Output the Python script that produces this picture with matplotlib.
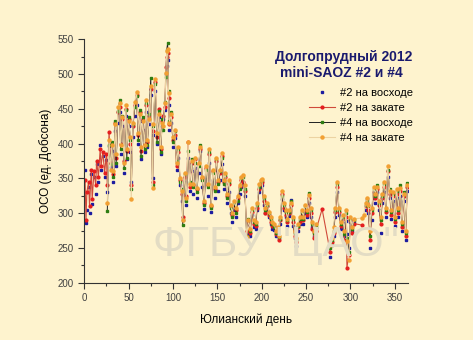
import numpy as np
import matplotlib.pyplot as plt
from matplotlib.ticker import MultipleLocator

plt.rcParams['font.family'] = ['Liberation Sans', 'DejaVu Sans']

nan = np.nan

# Юлианские дни наблюдений
days = [1, 2, 3, 5, 6, 8, 9, 11, 13, 14, 16, 18, 19, 21, 23, 25, 26, 28, 30,
        31, 33, 35, 36, 38, 40, 41, 43, 45, 47, 48, 50, 52, 53, 55, 57,
        59, 61, 63, 64, 66, 68, 70, 71, 73, 75, 77, 78, 80, 82, 84, 86, 88, 89,
        91, 92, 93, 94, 95, 96, 98, 100, 102, 104, 106, 108, 110, 111, 113, 115, 117, 119, 121,
        123, 125, 127, 129, 131, 133, 135, 137, 139, 141, 143, 145, 147, 149, 151,
        153, 155, 157, 159, 161, 163, 165, 167, 169, 171, 173, 175, 177, 179,
        181, 183, 185, 187, 189, 191, 193, 195, 197, 199, 200, 202, 204, 206, 208, 210, 212,
        214, 216, 218, 219, 221, 223, 225, 227, 229, 231, 233, 235, 237, 239, 241, 243,
        245, 247, 249, 251, 253, 255, 257, 259, 261, 268,
        277, 279, 281, 283, 285, 287, 289, 291, 293, 295, 296, 298, 300, 302, 304,
        313, 315, 317, 319, 320, 322, 324, 326, 328, 330, 332, 334,
        336, 338, 340, 342, 344, 346, 348, 350, 352, 354, 356, 358, 360, 362, 364]

# mini-SAOZ #2, восход
saoz2_am = [362, 286, 305, 338, 300, 356, 313, 352, 328, 370, 345, 398, 362, 382, 352, 376, 330, 396, 366,
            390, 345, 418, 368, 430, 445, 385, 425, 358, 440, 378, 425, 388, 345, 410, 440,
            455, 400, 432, 378, 420, 388, 445, 395, 428, 470, 350, 412, 475, 400, 438, 385, 425, 435,
            448, 500, 512, 520, 455, 420, 430, 395, 408, 362, 380, 340, 318, 290, 345, 312, 380, 332, 360,
            328, 365, 322, 358, 390, 338, 306, 352, 325, 372, 302, 348, 322, 362, 332,
            348, 370, 335, 342, 315, 330, 300, 288, 305, 295, 315, 328, 338, 342,
            325, 270, 285, 268, 298, 280, 278, 305, 330, 338, 340, 312, 300, 305, 295, 285, 278,
            276, 268, 272, 265, 285, 320, 305, 295, 282, 296, 319, 282, 265, 253, 275, 285,
            295, 285, 300, 295, 315, 295, 280, 268, 279, nan,
            237, 255, 268, 295, 330, 298, 278, 286, 268, 289, 270, 250, 288, 275, 287,
            nan, nan, 305, 321, 300, 250, 290, 322, 315, 330, 305, 272,
            315, 330, 295, 352, 322, 292, 318, 282, 322, 295, 325, 275, 318, 262, 332]

# mini-SAOZ #2, закат
saoz2_pm = [348, 290, 330, 345, 310, 362, 320, 360, 340, 375, 352, 392, 368, 388, 358, 385, 340, 416, 372,
            400, 356, 430, 380, 445, 452, 400, 435, 375, 450, 390, 436, 400, 340, 425, 455,
            470, 412, 445, 390, 435, 400, 455, 402, 440, 478, 345, 418, 488, 410, 450, 392, 432, 440,
            452, 510, 525, 530, 465, 428, 438, 405, 412, 368, 388, 348, 328, 295, 352, 325, 402, 338, 372,
            340, 378, 335, 370, 392, 350, 315, 365, 340, 385, 310, 360, 335, 375, 345,
            358, 382, 345, 352, 325, 342, 310, 298, 312, 305, 322, 338, 348, 345,
            332, 275, 288, 272, 302, 285, 282, 308, 335, 342, 345, 318, 300, 310, 298, 288, 282,
            282, 270, 278, 262, 290, 328, 308, 298, 288, 300, 312, 288, 268, 258, 280, 288,
            300, 290, 305, 298, 322, 300, 278, 265, 275, 306,
            245, 258, 272, 302, 338, 302, 282, 292, 262, 295, 222, 240, 290, 272, 285,
            283, nan, 310, 315, 305, 262, 300, 330, 322, 335, 312, 285,
            322, 338, 302, 360, 328, 298, 325, 288, 328, 300, 332, 280, 325, 268, 338]

# mini-SAOZ #4, восход
saoz4_am = [nan, nan, nan, nan, nan, nan, nan, nan, nan, nan, nan, nan, nan, nan, nan, nan, 303, 398, 370,
            402, 352, 432, 372, 447, 462, 392, 440, 365, 448, 380, 438, 405, 335, 428, 452,
            468, 405, 448, 382, 438, 392, 458, 398, 442, 494, 340, 425, 485, 402, 447, 388, 436, 420,
            460, 495, 535, 544, 475, 432, 445, 402, 418, 375, 392, 345, 335, 283, 356, 318, 390, 345, 378,
            338, 372, 330, 368, 398, 348, 312, 362, 338, 388, 308, 358, 332, 378, 342,
            360, 380, 342, 355, 322, 345, 308, 295, 315, 300, 318, 335, 350, 352,
            335, 268, 292, 275, 305, 288, 285, 312, 338, 346, 348, 322, 305, 312, 300, 292, 285,
            280, 272, 275, 266, 292, 325, 312, 302, 290, 302, 318, 292, 272, 262, 282, 292,
            302, 292, 310, 302, 329, 305, 285, 272, 282, nan,
            250, 262, 275, 305, 342, 305, 285, 295, 270, 300, 265, 245, 292, 278, 290,
            nan, nan, 312, 318, 310, 268, 305, 335, 325, 340, 315, 290,
            325, 342, 305, 362, 335, 302, 328, 292, 332, 305, 340, 285, 330, 272, 343]

# mini-SAOZ #4, закат
saoz4_pm = [nan, nan, nan, nan, nan, nan, nan, nan, nan, nan, nan, nan, nan, nan, nan, nan, 315, 405, 362,
            398, 360, 428, 385, 452, 458, 398, 438, 372, 455, 392, 432, 410, 320, 430, 460,
            474, 415, 442, 395, 432, 398, 462, 405, 436, 482, 336, 428, 493, 415, 443, 395, 430, 425,
            458, 502, 533, 536, 472, 430, 442, 410, 420, 372, 395, 350, 332, 290, 358, 322, 402, 342, 375,
            342, 380, 336, 372, 395, 352, 318, 368, 342, 392, 312, 362, 338, 380, 348,
            362, 386, 348, 358, 328, 348, 312, 300, 318, 308, 325, 340, 352, 355,
            340, 266, 290, 278, 308, 290, 288, 315, 342, 348, 349, 325, 308, 315, 302, 295, 288,
            285, 275, 280, 268, 295, 332, 315, 305, 292, 305, 315, 295, 275, 265, 285, 295,
            305, 295, 312, 305, 326, 308, 288, 275, 285, nan,
            255, 265, 280, 308, 345, 308, 288, 298, 275, 305, 260, 233, 295, 280, 292,
            293, 298, 315, 322, 312, 275, 308, 338, 328, 338, 318, 295,
            328, 345, 308, 368, 332, 305, 330, 295, 335, 308, 336, 288, 328, 275, 340]

bg = '#fef3ce'
fig = plt.figure(figsize=(4.73, 3.40), dpi=100, facecolor=bg)
ax = fig.add_axes([0.178, 0.168, 0.685, 0.717], facecolor=bg)

# водяной знак
fig.text(0.583, 0.28, 'ФГБУ "ЦАО"', fontsize=31, color='#e3dcc4',
         ha='center', va='center', zorder=0)

ax.plot(days, saoz2_am, linestyle='none', marker='s', ms=2.1,
        color='#1c1ca0', label='#2 на восходе')
ax.plot(days, saoz2_pm, '-', color='#d04a3a', lw=0.8, marker='o', ms=2.0,
        mfc='#e41e1e', mec='#e41e1e', label='#2 на закате')
ax.plot(days, saoz4_am, '-', color='#202020', lw=0.7, marker='s', ms=2.1,
        mfc='#2e7d12', mec='#2e7d12', label='#4 на восходе')
ax.plot(days, saoz4_pm, '-', color='#ecd3a2', lw=0.8, marker='o', ms=2.2,
        mfc='#f2a033', mec='#f2a033', label='#4 на закате')

ax.set_xlim(0, 365)
ax.set_ylim(200, 550)
ax.xaxis.set_major_locator(MultipleLocator(50))
ax.xaxis.set_minor_locator(MultipleLocator(25))
ax.yaxis.set_major_locator(MultipleLocator(50))
ax.yaxis.set_minor_locator(MultipleLocator(25))
ax.tick_params(which='major', direction='out', length=4, width=0.8,
               color='#333333', labelsize=7, labelcolor='#404040')
ax.tick_params(which='minor', direction='out', length=2.5, width=0.8, color='#333333')
for s in ['top', 'right']:
    ax.spines[s].set_visible(False)
for s in ['left', 'bottom']:
    ax.spines[s].set_color('#333333')
    ax.spines[s].set_linewidth(0.8)

ax.set_xlabel('Юлианский день', fontsize=8.5, labelpad=7)
ax.set_ylabel('ОСО (ед. Добсона)', fontsize=8.5, labelpad=4)

fig.text(0.726, 0.832, 'Долгопрудный 2012', fontsize=10, fontweight='bold',
         color='#1a1a6e', ha='center', va='center')
fig.text(0.722, 0.785, 'mini-SAOZ #2 и #4', fontsize=10, fontweight='bold',
         color='#1a1a6e', ha='center', va='center')

ax.legend(loc='upper left', bbox_to_anchor=(0.695, 0.80), frameon=False,
          fontsize=8, handlelength=2.3, handletextpad=0.5, labelspacing=0.45,
          borderpad=0, borderaxespad=0)

fig.savefig('out.png', dpi=100, facecolor=bg)
